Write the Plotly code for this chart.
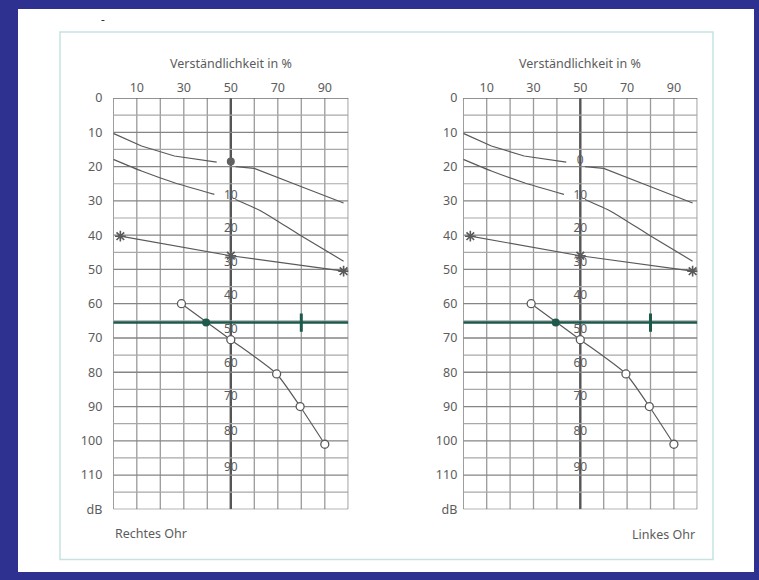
import plotly.graph_objects as go

W, H = 759, 580

# ---------------- data ----------------
pct_ticks = [10, 30, 50, 70, 90]
db_ticks = [0, 10, 20, 30, 40, 50, 60, 70, 80, 90, 100, 110, 120]
db_ticktext = ["0", "10", "20", "30", "40", "50", "60", "70", "80", "90", "100", "110", "dB"]

# normal curve, numbers (split where the "0" label sits)
num_x = [0, 12, 26, 44, None, 52, 60, 79, 98]
num_y = [10.3, 14.0, 16.9, 18.7, None, 20.0, 20.5, 25.6, 30.6]
# normal curve, monosyllables (split where the "10" label sits)
mono_x = [0, 12, 26, 43, None, 52, 63, 79, 98]
mono_y = [17.9, 21.3, 24.7, 28.1, None, 29.6, 33.0, 39.8, 47.6]
# measured numbers test (asterisks)
numtest_x = [3, 50, 98]
numtest_y = [40.3, 46.0, 50.5]
# measured monosyllable test (open circles)
word_x = [29, 50, 69.5, 79.5, 90]
word_y = [60.0, 70.5, 80.5, 90.0, 101.0]
# comfortable level line (green)
green_level = 65.5
green_dot_x = 39.5
green_tick_x = 80
# hearing loss scale along the 50 % line
loss_labels = ["0", "10", "20", "30", "40", "50", "60", "70", "80", "90"]
loss_db = [18.5, 28.5, 38.3, 48.2, 57.8, 67.6, 77.7, 87.3, 97.3, 107.8]

# ---------------- styling ----------------
BLUE = "#2f3191"
TXT = "#5c5c5c"
CURVE = "#5a5a5a"
GREEN = "#1c5a4c"
GRID = "#9a9a9a"
GRID_D = "#6e6e6e"
FONT = "Noto Sans"


def px_x(p):
    return p / W


def px_y(p):
    # vertical position given in target-picture pixels (with the viewer's
    # small vertical inset compensated), returned as paper fraction
    d = (p - 8) / 0.97
    return min(1.0, max(0.0, 1 - d / H))


fig = go.Figure()

axes = [("x", "y"), ("x2", "y2")]

for i, (xa, ya) in enumerate(axes):
    show = dict(showlegend=False, xaxis=xa, yaxis=ya, hoverinfo="skip")
    fig.add_trace(go.Scatter(x=num_x, y=num_y, mode="lines",
                             line=dict(color=CURVE, width=1.2), **show))
    fig.add_trace(go.Scatter(x=mono_x, y=mono_y, mode="lines",
                             line=dict(color=CURVE, width=1.2, shape="spline", smoothing=0.5), **show))
    fig.add_trace(go.Scatter(x=numtest_x, y=numtest_y, mode="lines+markers",
                             line=dict(color=CURVE, width=1.2),
                             marker=dict(symbol="asterisk-open", size=9,
                                         line=dict(color=CURVE, width=1.6)), **show))
    fig.add_trace(go.Scatter(x=[0, 100], y=[green_level, green_level], mode="lines",
                             line=dict(color=GREEN, width=2.6), **show))
    fig.add_trace(go.Scatter(x=word_x, y=word_y, mode="lines+markers",
                             line=dict(color=CURVE, width=1.2, shape="spline", smoothing=0.6),
                             marker=dict(symbol="circle", size=8, color="white",
                                         line=dict(color=CURVE, width=1.3)), **show))
    fig.add_trace(go.Scatter(x=[green_dot_x], y=[green_level], mode="markers",
                             marker=dict(symbol="circle", size=8, color=GREEN), **show))
    fig.add_trace(go.Scatter(x=[green_tick_x], y=[green_level], mode="markers",
                             marker=dict(symbol="line-ns", size=13,
                                         line=dict(color=GREEN, width=3)), **show))
    # hearing-loss labels along the 50 % line
    if i == 0:
        fig.add_trace(go.Scatter(x=[50], y=[loss_db[0]], mode="markers",
                                 marker=dict(symbol="circle", size=8, color="#606060"), **show))
        lab_t, lab_y = loss_labels[1:], loss_db[1:]
    else:
        lab_t, lab_y = loss_labels, loss_db
    fig.add_trace(go.Scatter(x=[50] * len(lab_t), y=lab_y, mode="text", text=lab_t,
                             textfont=dict(family=FONT, size=12, color=TXT), **show))

shapes = []
# white page and light framed box
shapes.append(dict(type="rect", xref="paper", yref="paper", x0=px_x(18), x1=px_x(754),
                   y0=0, y1=px_y(7), fillcolor="white", line=dict(width=0), layer="below"))
shapes.append(dict(type="rect", xref="paper", yref="paper", x0=px_x(60), x1=px_x(713),
                   y0=px_y(558), y1=px_y(31), fillcolor="rgba(0,0,0,0)",
                   line=dict(color="#c6e2e3", width=1.5), layer="below"))

for xa, ya in axes:
    for v in range(0, 101, 10):
        if v == 50:
            col, w = "#555555", 2.4
        elif v in (0, 100):
            col, w = GRID_D, 1.3
        else:
            col, w = GRID, 1.3
        shapes.append(dict(type="line", xref=xa, yref=ya, x0=v, x1=v, y0=0, y1=120,
                           line=dict(color=col, width=w), layer="below"))
    for v in range(0, 121, 5):
        if v in (0, 120):
            col, w = GRID_D, 1.4
        elif v % 10 == 0:
            col, w = "#858585", 1.3
        else:
            col, w = "#a8a8a8", 1.2
        shapes.append(dict(type="line", xref=xa, yref=ya, x0=0, x1=100, y0=v, y1=v,
                           line=dict(color=col, width=w), layer="below"))

annotations = []
for xa in ("x", "x2"):
    annotations.append(dict(text="Verständlichkeit in %", xref=xa, x=50, xanchor="center",
                            yref="paper", y=px_y(62), yanchor="middle",
                            showarrow=False, font=dict(family=FONT, size=12.5, color=TXT)))
annotations.append(dict(text="Rechtes Ohr", xref="x", x=0, xanchor="left", yref="paper",
                        y=px_y(532), yanchor="middle", showarrow=False,
                        font=dict(family=FONT, size=12.5, color=TXT)))
annotations.append(dict(text="Linkes Ohr", xref="x2", x=100, xanchor="right", yref="paper",
                        y=px_y(533), yanchor="middle", showarrow=False,
                        font=dict(family=FONT, size=12.5, color=TXT)))
annotations.append(dict(text="-", xref="paper", x=px_x(103), xanchor="center", yref="paper",
                        y=px_y(18), yanchor="middle", showarrow=False,
                        font=dict(family=FONT, size=12, color="#333333")))

xcommon = dict(range=[0, 100], side="top", tickvals=pct_ticks, ticks="", showgrid=False,
               zeroline=False, showline=False, tickfont=dict(family=FONT, size=12.5, color=TXT),
               ticklabelstandoff=3, fixedrange=True)
ycommon = dict(range=[120, 0], tickvals=db_ticks, ticktext=db_ticktext, ticks="", showgrid=False,
               zeroline=False, showline=False, tickfont=dict(family=FONT, size=12.5, color=TXT),
               fixedrange=True)

fig.update_layout(
    width=W, height=H,
    autosize=False,
    margin=dict(l=0, r=0, t=0, b=0),
    paper_bgcolor=BLUE,
    plot_bgcolor="rgba(0,0,0,0)",
    xaxis=dict(domain=[px_x(113.3), px_x(348.3)], anchor="y", **xcommon),
    yaxis=dict(domain=[px_y(508), px_y(97)], anchor="x", ticklabelstandoff=10, **ycommon),
    xaxis2=dict(domain=[px_x(463.3), px_x(697.3)], anchor="y2", **xcommon),
    yaxis2=dict(domain=[px_y(508), px_y(97)], anchor="x2", ticklabelstandoff=5, **ycommon),
    shapes=shapes,
    annotations=annotations,
)

page_bg = ("linear-gradient(to bottom, " + BLUE + " 0%, " + BLUE + " 50%, "
           "#ffffff 50%, #ffffff 100%)")
page_style = (
    "document.documentElement.style.height='100%';"
    "document.documentElement.style.background=\"" + page_bg + "\";"
    "document.body.style.margin='0px';"
    "document.body.style.height='100%';"
    "document.body.style.background=\"" + page_bg + "\";"
)

fig.write_html("out.html",
               config={"displayModeBar": False, "responsive": False},
               post_script=page_style)
